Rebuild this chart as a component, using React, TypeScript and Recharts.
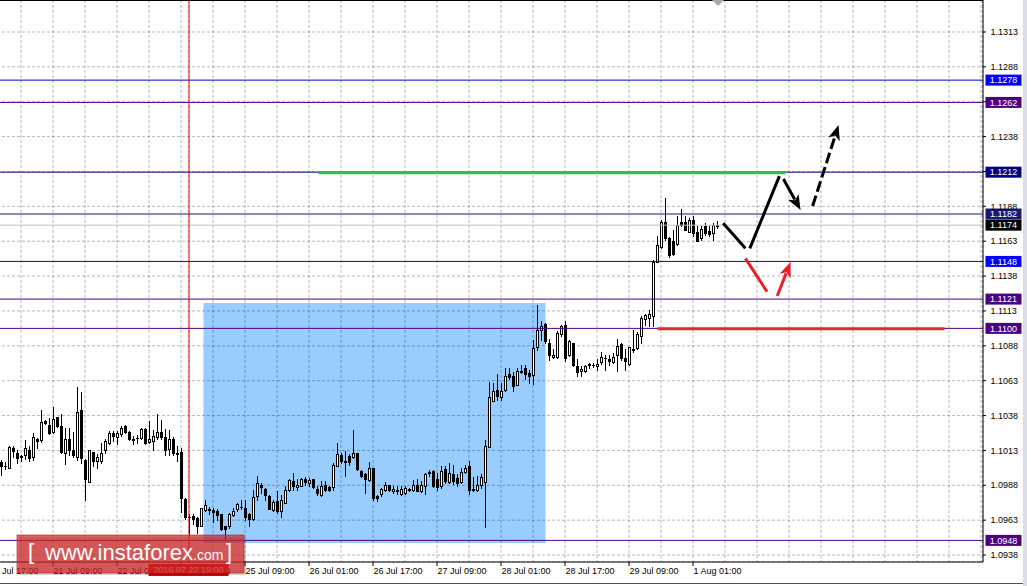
import React from 'react';
import { ComposedChart, Bar, XAxis, YAxis, CartesianGrid, ReferenceLine, ReferenceArea } from 'recharts';

// ---------- data (EURUSD H1) ----------
const OPEN = [
  1.10040, 1.10013, 1.09997, 1.10140, 1.10104, 1.10080, 1.10085, 1.10128, 1.10075, 1.10205,
  1.10195, 1.10334, 1.10307, 1.10252, 1.10358, 1.10295, 1.10104, 1.10200, 1.10126, 1.10075,
  1.10408, 1.10056, 1.09896, 1.10109, 1.10042, 1.10049, 1.10121, 1.10176, 1.10248, 1.10219,
  1.10236, 1.10300, 1.10252, 1.10200, 1.10207, 1.10212, 1.10276, 1.10181, 1.10188, 1.10219,
  1.10252, 1.10219, 1.10133, 1.10205, 1.10104, 1.10109, 1.09770, 1.09645, 1.09650, 1.09638,
  1.09578, 1.09693, 1.09702, 1.09691, 1.09686, 1.09667, 1.09578, 1.09578, 1.09657, 1.09698,
  1.09719, 1.09710, 1.09662, 1.09633, 1.09793, 1.09875, 1.09848, 1.09798, 1.09693, 1.09762,
  1.09686, 1.09745, 1.09841, 1.09901, 1.09860, 1.09865, 1.09913, 1.09889, 1.09913, 1.09848,
  1.09805, 1.09877, 1.09858, 1.09858, 1.10013, 1.10092, 1.10037, 1.10080, 1.10075, 1.10100,
  1.09977, 1.09949, 1.09908, 1.09992, 1.09798, 1.09812, 1.09836, 1.09870, 1.09830, 1.09841,
  1.09812, 1.09817, 1.09846, 1.09836, 1.09877, 1.09830, 1.09865, 1.09968, 1.09973, 1.09920,
  1.09865, 1.09989, 1.09894, 1.09949, 1.09925, 1.09896, 1.09968, 1.10013, 1.09848, 1.09836,
  1.09877, 1.09898, 1.10147, 1.10479, 1.10558, 1.10503, 1.10553, 1.10666, 1.10654, 1.10594,
  1.10694, 1.10709, 1.10677, 1.10661, 1.10864, 1.10988, 1.11029, 1.10893, 1.10790, 1.10790,
  1.10957, 1.11024, 1.10809, 1.10893, 1.10730, 1.10689, 1.10689, 1.10740, 1.10735, 1.10725,
  1.10754, 1.10787, 1.10778, 1.10754, 1.10804, 1.10885, 1.10785, 1.10742, 1.10845, 1.10857,
  1.10945, 1.11065, 1.11072, 1.11083, 1.11470, 1.11578, 1.11759, 1.11645, 1.11621, 1.11602,
  1.11757, 1.11757, 1.11688, 1.11776, 1.11688, 1.11645, 1.11728, 1.11693, 1.11681, 1.11731,
];
const HIGH = [
  1.10056, 1.10040, 1.10152, 1.10152, 1.10128, 1.10092, 1.10193, 1.10152, 1.10248, 1.10207,
  1.10408, 1.10338, 1.10355, 1.10434, 1.10362, 1.10386, 1.10283, 1.10283, 1.10252, 1.10577,
  1.10542, 1.10061, 1.10128, 1.10109, 1.10099, 1.10176, 1.10200, 1.10260, 1.10260, 1.10260,
  1.10295, 1.10307, 1.10260, 1.10224, 1.10233, 1.10283, 1.10279, 1.10331, 1.10271, 1.10381,
  1.10338, 1.10276, 1.10271, 1.10219, 1.10152, 1.10140, 1.09782, 1.09662, 1.09662, 1.09643,
  1.09710, 1.09765, 1.09717, 1.09710, 1.09698, 1.09667, 1.09583, 1.09674, 1.09710, 1.09741,
  1.09765, 1.09769, 1.09674, 1.09841, 1.09937, 1.09889, 1.09853, 1.09805, 1.09769, 1.09829,
  1.09805, 1.09865, 1.09913, 1.09961, 1.09913, 1.09925, 1.09932, 1.09925, 1.09918, 1.09865,
  1.09901, 1.09901, 1.09865, 1.10032, 1.10176, 1.10104, 1.10116, 1.10097, 1.10271, 1.10104,
  1.09984, 1.09961, 1.10039, 1.09996, 1.09805, 1.09853, 1.09896, 1.09877, 1.09865, 1.09865,
  1.09865, 1.09865, 1.09853, 1.09908, 1.09913, 1.09901, 1.09961, 1.09984, 1.09984, 1.09961,
  1.10008, 1.10013, 1.10032, 1.10020, 1.09953, 1.09996, 1.10020, 1.10044, 1.09932, 1.09937,
  1.09949, 1.10199, 1.10611, 1.10606, 1.10666, 1.10606, 1.10709, 1.10713, 1.10682, 1.10713,
  1.10737, 1.10737, 1.10701, 1.10916, 1.11167, 1.11048, 1.11036, 1.10921, 1.10845, 1.10976,
  1.11024, 1.11048, 1.10912, 1.10893, 1.10778, 1.10725, 1.10737, 1.10749, 1.10749, 1.10778,
  1.10828, 1.10809, 1.10809, 1.10821, 1.10921, 1.10893, 1.10845, 1.10864, 1.10988, 1.10969,
  1.11084, 1.11096, 1.11127, 1.11489, 1.11657, 1.11776, 1.11932, 1.11652, 1.11704, 1.11800,
  1.11853, 1.11800, 1.11788, 1.11805, 1.11728, 1.11728, 1.11752, 1.11728, 1.11752, 1.11764,
];
const LOW = [
  1.09944, 1.09989, 1.09997, 1.10073, 1.10028, 1.10044, 1.10061, 1.10044, 1.10052, 1.10140,
  1.10183, 1.10314, 1.10236, 1.10248, 1.10291, 1.10104, 1.10021, 1.10085, 1.10075, 1.10052,
  1.10028, 1.09765, 1.09896, 1.10013, 1.09997, 1.10028, 1.10104, 1.10171, 1.10188, 1.10169,
  1.10224, 1.10248, 1.10197, 1.10169, 1.10176, 1.10205, 1.10171, 1.10176, 1.10123, 1.10200,
  1.10200, 1.10090, 1.10090, 1.10090, 1.10049, 1.09681, 1.09631, 1.09523, 1.09597, 1.09530,
  1.09578, 1.09686, 1.09667, 1.09609, 1.09626, 1.09554, 1.09483, 1.09566, 1.09650, 1.09686,
  1.09702, 1.09626, 1.09578, 1.09626, 1.09769, 1.09817, 1.09769, 1.09698, 1.09686, 1.09674,
  1.09643, 1.09745, 1.09830, 1.09841, 1.09841, 1.09865, 1.09877, 1.09865, 1.09853, 1.09805,
  1.09793, 1.09830, 1.09830, 1.09841, 1.10008, 1.10032, 1.09941, 1.10020, 1.10068, 1.09984,
  1.09932, 1.09817, 1.09901, 1.09769, 1.09762, 1.09793, 1.09830, 1.09830, 1.09817, 1.09810,
  1.09805, 1.09812, 1.09830, 1.09830, 1.09830, 1.09822, 1.09812, 1.09937, 1.09858, 1.09841,
  1.09853, 1.09889, 1.09889, 1.09884, 1.09865, 1.09889, 1.09961, 1.09812, 1.09830, 1.09830,
  1.09853, 1.09575, 1.10147, 1.10474, 1.10486, 1.10482, 1.10546, 1.10630, 1.10551, 1.10587,
  1.10677, 1.10630, 1.10606, 1.10601, 1.10840, 1.10916, 1.10893, 1.10773, 1.10785, 1.10785,
  1.10940, 1.10761, 1.10797, 1.10725, 1.10654, 1.10658, 1.10682, 1.10713, 1.10718, 1.10701,
  1.10744, 1.10701, 1.10737, 1.10749, 1.10689, 1.10773, 1.10701, 1.10735, 1.10830, 1.10850,
  1.10893, 1.11024, 1.11017, 1.11011, 1.11470, 1.11573, 1.11633, 1.11509, 1.11525, 1.11597,
  1.11728, 1.11704, 1.11685, 1.11657, 1.11621, 1.11633, 1.11669, 1.11661, 1.11628, 1.11716,
];
const CLOSE = [
  1.10013, 1.10011, 1.10145, 1.10116, 1.10066, 1.10075, 1.10140, 1.10066, 1.10219, 1.10188,
  1.10326, 1.10319, 1.10248, 1.10350, 1.10295, 1.10111, 1.10205, 1.10121, 1.10090, 1.10398,
  1.10064, 1.09913, 1.10121, 1.10049, 1.10071, 1.10104, 1.10190, 1.10243, 1.10228, 1.10243,
  1.10283, 1.10252, 1.10200, 1.10195, 1.10212, 1.10276, 1.10176, 1.10205, 1.10224, 1.10255,
  1.10219, 1.10123, 1.10205, 1.10104, 1.10099, 1.09779, 1.09645, 1.09641, 1.09633, 1.09578,
  1.09710, 1.09729, 1.09691, 1.09681, 1.09657, 1.09561, 1.09561, 1.09667, 1.09686, 1.09734,
  1.09714, 1.09645, 1.09631, 1.09789, 1.09889, 1.09860, 1.09805, 1.09702, 1.09750, 1.09686,
  1.09765, 1.09841, 1.09908, 1.09865, 1.09877, 1.09913, 1.09896, 1.09906, 1.09858, 1.09817,
  1.09865, 1.09841, 1.09836, 1.10020, 1.10097, 1.10044, 1.10049, 1.10037, 1.10104, 1.09989,
  1.09937, 1.09913, 1.09996, 1.09779, 1.09781, 1.09846, 1.09877, 1.09836, 1.09848, 1.09830,
  1.09848, 1.09853, 1.09841, 1.09872, 1.09834, 1.09877, 1.09949, 1.09961, 1.09865, 1.09860,
  1.09977, 1.09901, 1.09956, 1.09901, 1.09889, 1.09968, 1.09996, 1.09836, 1.09836, 1.09872,
  1.09932, 1.10156, 1.10503, 1.10551, 1.10510, 1.10551, 1.10658, 1.10646, 1.10582, 1.10694,
  1.10685, 1.10666, 1.10654, 1.10857, 1.10988, 1.11017, 1.10905, 1.10804, 1.10809, 1.10964,
  1.11017, 1.10785, 1.10905, 1.10732, 1.10685, 1.10706, 1.10730, 1.10735, 1.10732, 1.10744,
  1.10790, 1.10783, 1.10761, 1.10790, 1.10873, 1.10785, 1.10766, 1.10862, 1.10840, 1.10957,
  1.11072, 1.11089, 1.11103, 1.11470, 1.11597, 1.11759, 1.11645, 1.11525, 1.11532, 1.11740,
  1.11736, 1.11704, 1.11776, 1.11681, 1.11626, 1.11712, 1.11681, 1.11673, 1.11740, 1.11740,
];

// trading hours shown on the chart (weekend skipped)
const DAYS: [string, number, number][] = [
  ['20 Jul', 17, 23], ['21 Jul', 0, 23], ['22 Jul', 0, 23],
  ['25 Jul', 0, 23], ['26 Jul', 0, 23], ['27 Jul', 0, 23], ['28 Jul', 0, 23], ['29 Jul', 0, 23],
  ['1 Aug', 0, 7],
];
const LEAD = 3;      // hours on the axis before the first visible candle
const FUTURE = 66;   // empty hours right of the last candle

const Y_TICKS = [1.09375, 1.09625, 1.09875, 1.10125, 1.10375, 1.10625, 1.10875, 1.11125,
  1.11375, 1.11625, 1.11875, 1.12125, 1.12375, 1.12625, 1.12875, 1.13125];
const Y_TICK_LABELS = ['1.0938', '1.0963', '1.0988', '1.1013', '1.1038', '1.1063', '1.1088', '1.1113',
  '1.1138', '1.1163', '1.1188', '1.1213', '1.1238', '1.1263', '1.1288', '1.1313'];
const Y_TICKS_UNDER_TAGS = ['1.1213', '1.1263'];
const Y_MIN = 1.09325;
const Y_MAX = 1.133544;

const LEVELS = [1.1278, 1.1262, 1.1212, 1.1182, 1.1148, 1.1121, 1.1100, 1.0948];
const LEVEL_COLORS = ['#0000ff', '#4b0082', '#000080', '#191970', '#0000ff', '#4b0082', '#4b0082', '#4b0082'];
const LEVEL_LINE_COLORS = ['#0000c8', '#4b0082', '#000080', '#191970', '#0000ff', '#4b0082', '#4b0082', '#4b0082'];
const BID = 1.1174;

const MARK_TIME = '22 Jul 19:00';
const MARK_LABEL = '2016.07.22 19:00';

// range box (hour-index coordinates, price)
const ZONE = { x1: 53.625, x2: 139.125, y1: 1.09461, y2: 1.11182 };
const GREEN_LEVEL = { x1: 82.375, x2: 199.125, y: 1.12115 };
const RED_LEVEL = { x1: 167.125, x2: 238.875, y: 1.10997 };

type Arrow = { a: [number, number]; b: [number, number]; color: string; head: boolean; dash?: string };
const ARROWS: Arrow[] = [
  { a: [183.55, 1.11753], b: [189.1, 1.11574], color: '#000', head: false },
  { a: [190.2, 1.11574], b: [197.6, 1.12092], color: '#000', head: false },
  { a: [198.6, 1.12071], b: [202.9, 1.11849], color: '#000', head: true },
  { a: [205.9, 1.11877], b: [212.4, 1.12458], color: '#000', head: true, dash: '11 4' },
  { a: [189.1, 1.11502], b: [194.5, 1.11263], color: '#e8202a', head: false },
  { a: [197.05, 1.11232], b: [200.4, 1.11476], color: '#e8202a', head: true },
];

// ---------- derived rows ----------
const HOURS: string[] = [];
DAYS.forEach(([d, a, b]) => {
  for (let h = a; h <= b; h++) HOURS.push(`${d} ${String(h).padStart(2, '0')}:00`);
});
const N = HOURS.length + FUTURE;
const rows = Array.from({ length: N }, (_, j) => {
  const i = j - LEAD;
  const t = j < HOURS.length ? HOURS[j] : `+${j - HOURS.length + 1}`;
  if (i >= 0 && i < OPEN.length) {
    return { j, t, o: OPEN[i], h: HIGH[i], l: LOW[i], c: CLOSE[i], range: [LOW[i], HIGH[i]] };
  }
  return { j, t };
});
// grid every 8 hours; the marker time goes last so its tag is painted over the other labels
const X_TICKS = [...rows.filter((r) => r.j % 8 === 0).map((r) => r.t), MARK_TIME];
const X_LABELED = new Set(rows.filter((r) => r.j % 16 === 0 && r.j < HOURS.length).map((r) => r.t));
const LAST_LABEL_J = 176;

const FONT = '"Liberation Sans", Arial, sans-serif';

const Candle = (props: any) => {
  const { x, y, width, height, payload } = props;
  if (!payload || payload.o == null || height == null) return null;
  const { o, h, l, c } = payload;
  const top = Math.min(y, y + height);
  const hgt = Math.abs(height);
  const ppu = h > l ? hgt / (h - l) : 0;
  const yOf = (v: number) => top + (h - v) * ppu;
  const cx = x + width / 2;
  const bull = c >= o;
  const yT = Math.floor(yOf(Math.max(o, c))) + 0.5;
  const yB = Math.floor(yOf(Math.min(o, c))) + 0.5;
  return (
    <g>
      <line x1={cx} x2={cx} y1={Math.floor(yOf(h))} y2={Math.ceil(yOf(l))} stroke="#000" strokeWidth={1} />
      {yB - yT < 1 ? (
        <line x1={cx - 1.5} x2={cx + 1.5} y1={yT} y2={yT} stroke="#000" strokeWidth={1} />
      ) : (
        <rect x={cx - 1} y={yT} width={2} height={yB - yT} fill={bull ? '#fff' : '#000'} stroke="#000" strokeWidth={1} />
      )}
    </g>
  );
};

const YTick = (p: any) => {
  const idx = Y_TICKS.indexOf(p.payload.value);
  const label = Y_TICK_LABELS[idx >= 0 ? idx : p.index];
  if (!label || Y_TICKS_UNDER_TAGS.includes(label)) return null;
  return (
    <text x={p.x} y={p.y} dy={3.2} fontSize={9} fontFamily={FONT} fill="#000" textAnchor="start">{label}</text>
  );
};

const XTick = (p: any) => {
  const v = p.payload.value;
  if (v === MARK_TIME) {
    return (
      <g>
        <rect x={p.x - 40.5} y={p.y + 2} width={80} height={12} fill="#e00000" />
        <text x={p.x - 0.5} y={p.y + 11.2} textAnchor="middle" fontSize={9} fontFamily={FONT} fill="#fff">{MARK_LABEL}</text>
      </g>
    );
  }
  const j = HOURS.indexOf(v);
  if (!X_LABELED.has(v) || j > LAST_LABEL_J) return null;
  return (
    <g>
      <line x1={p.x} x2={p.x} y1={p.y} y2={p.y + 4} stroke="#000" strokeWidth={1} />
      <text x={p.x + 0.5} y={p.y + 12} fontSize={9} fontFamily={FONT} fill="#000" textAnchor="start">{v}</text>
    </g>
  );
};

const levelTag = (text: string, bg: string) => (props: any) => {
  const vb = props.viewBox || {};
  const x = vb.x + vb.width + 2.5;
  const y = vb.y;
  return (
    <g>
      <rect x={x} y={y - 5.5} width={36} height={11} fill={bg} />
      <text x={x + 18} y={y + 3.2} textAnchor="middle" fontSize={9} fontFamily={FONT} fill="#fff">{text}</text>
    </g>
  );
};

const arrowShape = (color: string, head: boolean, dash?: string) => (p: any) => {
  const { x1, y1, x2, y2 } = p;
  if (![x1, y1, x2, y2].every((v) => typeof v === 'number' && isFinite(v))) return <g />;
  const dx = x2 - x1, dy = y2 - y1;
  const len = Math.hypot(dx, dy) || 1;
  const ux = dx / len, uy = dy / len;
  const hl = head ? 15 : 0;
  const hw = 6;
  const bx = x2 - ux * hl, by = y2 - uy * hl;
  const ex = head ? bx + ux * 3 : x2;
  const ey = head ? by + uy * 3 : y2;
  return (
    <g>
      <line x1={x1} y1={y1} x2={ex} y2={ey} stroke={color} strokeWidth={3} strokeDasharray={dash} />
      {head && (
        <polygon
          points={`${x2},${y2} ${bx - uy * hw},${by + ux * hw} ${bx + ux * 4},${by + uy * 4} ${bx + uy * hw},${by - ux * hw}`}
          fill={color}
        />
      )}
    </g>
  );
};

export default function App() {
  return (
    <div style={{ position: 'absolute', left: 0, top: 0, width: 1027, height: 586, overflow: 'hidden', background: '#fff' }}>
      <div style={{ position: 'absolute', left: -13.5, top: 0 }}>
        <ComposedChart width={1040.5} height={586} data={rows} margin={{ top: 0, right: 0, bottom: 0, left: 0 }} barSize={3}>
          <ReferenceArea x1={ZONE.x1} x2={ZONE.x2} y1={ZONE.y1} y2={ZONE.y2} xAxisId="n" fill="#99ccff" fillOpacity={1} stroke="none" zIndex={-200} ifOverflow="visible" />
          <CartesianGrid stroke="rgba(0,0,0,0.28)" strokeDasharray="3 2" />
          <XAxis dataKey="t" ticks={X_TICKS} interval={0} height={24} axisLine={{ stroke: '#000' }} tickLine={false} tickSize={0} tickMargin={0} tick={<XTick />} />
          <XAxis xAxisId="n" type="number" dataKey="j" domain={[-0.5, N - 0.5]} hide allowDataOverflow />
          <YAxis orientation="right" width={44.5} domain={[Y_MIN, Y_MAX]} allowDataOverflow ticks={Y_TICKS} interval={0}
            axisLine={{ stroke: '#000' }} tickLine={{ stroke: '#000' }} tickSize={3} tickMargin={4.5} tick={<YTick />} />
          <ReferenceLine y={BID} stroke="#c0c0c0" strokeWidth={1} label={levelTag(BID.toFixed(4), '#000')} />
          {LEVELS.map((lv, k) => (
            <ReferenceLine key={lv} y={lv} stroke={LEVEL_LINE_COLORS[k]} strokeWidth={1} label={levelTag(lv.toFixed(4), LEVEL_COLORS[k])} />
          ))}
          <ReferenceLine x={MARK_TIME} stroke="#ff0000" strokeWidth={1} />
          <Bar dataKey="range" isAnimationActive={false} shape={<Candle />} />
          <ReferenceLine xAxisId="n" segment={[{ x: GREEN_LEVEL.x1, y: GREEN_LEVEL.y }, { x: GREEN_LEVEL.x2, y: GREEN_LEVEL.y }]} stroke="#2dbd52" strokeWidth={3} ifOverflow="visible" />
          <ReferenceLine xAxisId="n" segment={[{ x: RED_LEVEL.x1, y: RED_LEVEL.y }, { x: RED_LEVEL.x2, y: RED_LEVEL.y }]} stroke="#e8262d" strokeWidth={3} ifOverflow="visible" />
          {ARROWS.map((a, k) => (
            <ReferenceLine key={k} xAxisId="n" segment={[{ x: a.a[0], y: a.a[1] }, { x: a.b[0], y: a.b[1] }]}
              stroke={a.color} strokeWidth={3} ifOverflow="visible" shape={arrowShape(a.color, a.head, a.dash)} />
          ))}
        </ComposedChart>
      </div>
      <svg width={1027} height={586} style={{ position: 'absolute', left: 0, top: 0, pointerEvents: 'none' }}>
        <line x1={0} x2={983} y1={0.5} y2={0.5} stroke="#000" />
        <polygon points="712,0 724,0 718,6" fill="#a8a8a8" />
        <line x1={0} x2={1023} y1={583.5} y2={583.5} stroke="#505050" />
        <rect x={1023} y={0} width={4} height={586} fill="#d9dee4" />
        <rect x={19} y={537} width={227} height={38} fill="rgba(0,0,0,0.18)" />
        <rect x={17} y={535} width={227} height={38} fill="rgb(214,40,40)" fillOpacity={0.72} stroke="rgba(170,30,30,0.6)" />
        <text x={28} y={559} fontSize={22} fontFamily={FONT} fill="#fff">[</text>
        <text x={45} y={560} fontSize={22} fontFamily={FONT} fill="#fff">www.instaforex</text>
        <text x={193} y={560} fontSize={14} fontFamily={FONT} fill="#fff">.com</text>
        <text x={226} y={559} fontSize={22} fontFamily={FONT} fill="#fff">]</text>
      </svg>
    </div>
  );
}
